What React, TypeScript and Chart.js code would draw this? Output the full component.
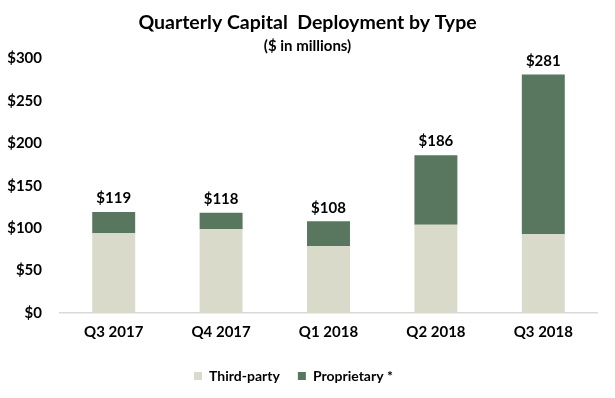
import React, { useEffect, useRef } from "react";
import { Chart, registerables } from "chart.js";

Chart.register(...registerables);

const categories = ["Q3 2017", "Q4 2017", "Q1 2018", "Q2 2018", "Q3 2018"];
const thirdParty = [94, 99, 79, 104, 93];
const proprietary = [25, 19, 29, 82, 188];
const totals = [119, 118, 108, 186, 281];
const yTicks = [0, 50, 100, 150, 200, 250, 300];

const FONT = "Lato, 'Open Sans', sans-serif";

const totalLabels = {
  id: "totalLabels",
  afterDatasetsDraw(chart: any) {
    const { ctx } = chart;
    const meta = chart.getDatasetMeta(1);
    ctx.save();
    ctx.font = `bold 15px ${FONT}`;
    ctx.fillStyle = "#000";
    ctx.textAlign = "center";
    ctx.textBaseline = "bottom";
    meta.data.forEach((bar: any, i: number) => {
      ctx.fillText("$" + totals[i], bar.x, bar.y - 6);
    });
    ctx.restore();
  },
};

const boxShift = {
  id: "boxShift",
  afterLayout(chart: any) {
    (chart.boxes || []).forEach((b: any) => {
      if (b === chart.legend) {
        b.left -= 5;
        b.right -= 5;
      } else if (b.position === "top" || (b.options && b.options.position === "top")) {
        b.left += 9;
        b.right += 9;
      }
    });
  },
};

export default function App() {
  const ref = useRef<HTMLCanvasElement>(null);
  useEffect(() => {
    const chart = new Chart(ref.current!, {
      type: "bar",
      data: {
        labels: categories,
        datasets: [
          { label: "Third-party", data: thirdParty, backgroundColor: "#D9DACA", barPercentage: 0.8, categoryPercentage: 0.5 },
          { label: "Proprietary *", data: proprietary, backgroundColor: "#58775E", barPercentage: 0.8, categoryPercentage: 0.5 },
        ],
      },
      options: {
        animation: false,
        responsive: false,
        maintainAspectRatio: false,
        layout: { padding: { left: 0, right: 18, top: 0, bottom: 5 } },
        plugins: {
          title: {
            display: true,
            text: "Quarterly Capital  Deployment by Type",
            font: { family: FONT, size: 19.5, weight: "bold" },
            color: "#000",
            padding: { top: 11, bottom: 3 },
          },
          subtitle: {
            display: true,
            text: "($ in millions)",
            font: { family: FONT, size: 15, weight: "bold" },
            color: "#000",
            padding: { top: 0, bottom: 3 },
          },
          legend: {
            position: "bottom",
            labels: {
              font: { family: FONT, size: 14, weight: "bold" },
              color: "#000",
              boxWidth: 8,
              boxHeight: 8,
              padding: 18,
            },
          },
          tooltip: { enabled: false },
        },
        scales: {
          x: {
            stacked: true,
            grid: { display: false, drawTicks: false },
            border: { color: "#D9D9D9", width: 1.5 },
            ticks: { font: { family: FONT, size: 15, weight: "bold" }, color: "#000", padding: 10 },
          },
          y: {
            stacked: true,
            min: yTicks[0],
            max: yTicks[yTicks.length - 1],
            grid: { display: false, drawTicks: false },
            border: { display: false },
            afterFit: (scale: any) => {
              scale.width = 60;
            },
            afterBuildTicks: (scale: any) => {
              scale.ticks = yTicks.map((v) => ({ value: v }));
            },
            ticks: {
              font: { family: FONT, size: 15, weight: "bold" },
              color: "#000",
              padding: 18,
              callback: (v: any) => "$" + v,
            },
          },
        },
      },
      plugins: [totalLabels, boxShift],
    });
    return () => chart.destroy();
  }, []);
  return (
    <div style={{ position: "fixed", left: 0, top: 0, width: 615, height: 398, background: "#fff" }}>
      <canvas ref={ref} width={615} height={398} />
    </div>
  );
}
